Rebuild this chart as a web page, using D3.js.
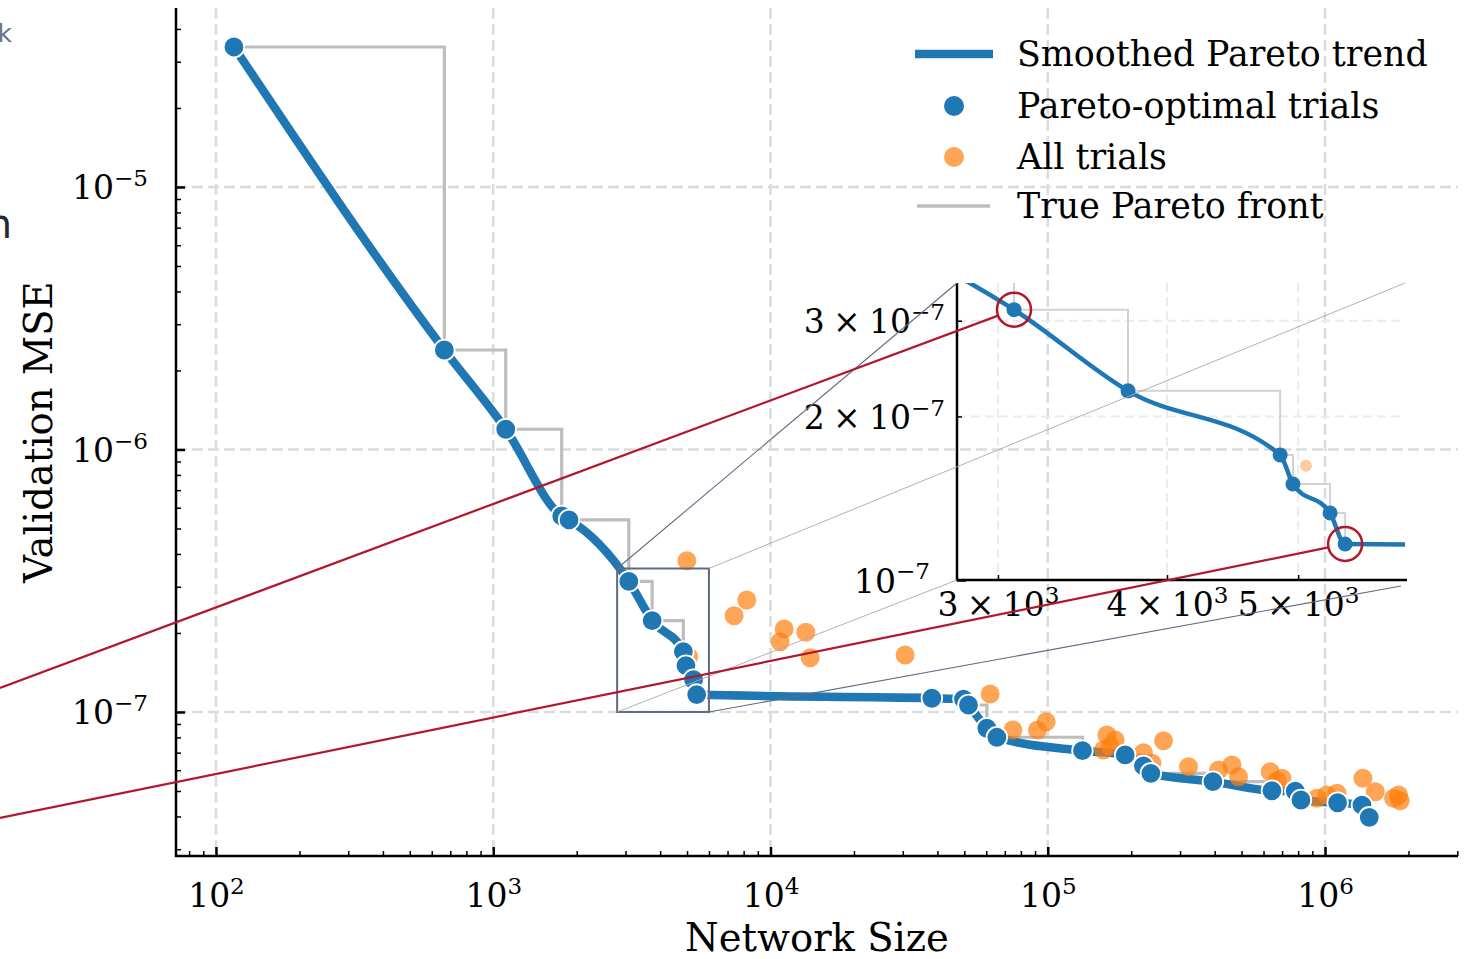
<!DOCTYPE html>
<html><head><meta charset="utf-8">
<script src="https://cdn.jsdelivr.net/npm/d3@7"></script>
<style>body{margin:0;background:#fff}svg{display:block}text{font-family:"DejaVu Serif",serif}</style>
</head><body>
<svg id="c" width="1468" height="959"></svg>
<script>
// ---------------- data ----------------
const paretoSize = [116.1, 666.4, 1109.5, 1766, 1877, 3083, 3743, 4849, 4956, 5279, 5416,
  38190, 49650, 51760, 60310, 65530, 133400, 190200, 221400, 235400, 394100, 643300,
  780800, 818800, 1110000, 1359000, 1444000];
const paretoMSE = [3.415e-5, 2.393e-6, 1.194e-6, 5.58e-7, 5.39e-7, 3.144e-7, 2.229e-7, 1.699e-7,
  1.502e-7, 1.328e-7, 1.165e-7, 1.128e-7, 1.12e-7, 1.063e-7, 8.67e-8, 8.01e-8, 7.12e-8, 6.86e-8,
  6.23e-8, 5.84e-8, 5.43e-8, 5.01e-8, 4.99e-8, 4.62e-8, 4.51e-8, 4.42e-8, 3.97e-8];
const trialSize = [4991, 8212, 7391, 11200, 10830, 13410, 13900, 30590, 61980, 5067, 74830, 91810,
  98680, 163400, 175000, 168000, 158900, 221400, 237400, 261500, 321800, 412900, 461500, 487500,
  634300, 698900, 672300, 934900, 1104000, 1016000, 1370000, 1518000, 1767000, 1842000, 1867000];
const trialMSE = [3.771e-7, 2.671e-7, 2.327e-7, 2.071e-7, 1.852e-7, 2.012e-7, 1.610e-7, 1.649e-7,
  1.171e-7, 1.622e-7, 8.54e-8, 8.54e-8, 9.18e-8, 8.18e-8, 7.82e-8, 7.42e-8, 7.16e-8, 7.00e-8,
  6.38e-8, 7.77e-8, 6.19e-8, 6.01e-8, 6.28e-8, 5.67e-8, 5.92e-8, 5.59e-8, 5.46e-8, 4.69e-8,
  4.90e-8, 4.83e-8, 5.59e-8, 4.97e-8, 4.69e-8, 4.83e-8, 4.59e-8];
const xMajorTicks = [1e2, 1e3, 1e4, 1e5, 1e6];
const xMajorLabels = [["", "2"], ["", "3"], ["", "4"], ["", "5"], ["", "6"]];
const yMajorTicks = [1e-7, 1e-6, 1e-5];
const yMajorLabels = [["", "\u22127"], ["", "\u22126"], ["", "\u22125"]];
const insetXDomain = [2798, 5997];
const insetYDomain = [1e-7, 3.52e-7];
const insetXTicks = [3000, 4000, 5000];
const insetXLabels = [["3", "3"], ["4", "3"], ["5", "3"]];
const insetYTicks = [2e-7, 3e-7];
const insetYLabels = [["2", "\u22127"], ["3", "\u22127"]];
const insetYMajor = [1e-7];
const insetYMajorLabels = [["", "\u22127"]];
const highlightIdx = [5, 10];
const linkEndSize = [16.63, 16.63];
const linkEndMSE = [1.234e-7, 3.946e-8];
const legendLabels = ["Smoothed Pareto trend", "Pareto-optimal trials", "All trials", "True Pareto front"];
const xTitle = "Network Size";
const yTitle = "Validation MSE";

// ---------------- setup ----------------
const BLUE = "#1f77b4", ORANGE = "#ff7f0e", RED = "#b2182b", SLATE = "#5f6b80";
const svg = d3.select("#c");
const M = {l: 176, r: 1458, t: 8, b: 856};
const x = d3.scaleLog().domain([71.75, 3.017e6]).range([M.l, M.r]);
const y = d3.scaleLog().domain([2.827e-8, 4.807e-5]).range([M.b, M.t]);
const I = {l: 957, r: 1405, t: 283, b: 580};
const ix = d3.scaleLog().domain(insetXDomain).range([I.l, I.r]);
const iy = d3.scaleLog().domain(insetYDomain).range([I.b, I.t]);
const TFS = 33;

function minorTicks(dom) {
  const out = [];
  const lo = Math.floor(Math.log10(dom[0])), hi = Math.ceil(Math.log10(dom[1]));
  for (let k = lo; k < hi; k++) for (let m = 2; m <= 9; m++) {
    const v = m * Math.pow(10, k);
    if (v >= dom[0] && v <= dom[1]) out.push(v);
  }
  return out;
}
function sci(sel, lab, fs) {
  sel.text(null);
  sel.append("tspan").text(lab[0] ? lab[0] + "\u2005\u00d7\u200510" : "10");
  sel.append("tspan").attr("font-size", fs * 0.7).attr("dy", -fs * 0.4).text(lab[1]);
}

// fragments at the left edge
svg.append("text").attr("x", 12).attr("y", 42).attr("text-anchor", "end")
  .style("font-family", "DejaVu Sans").attr("font-size", 25).attr("fill", "#6b7385").text("k");
svg.append("text").attr("x", 12).attr("y", 238).attr("text-anchor", "end")
  .style("font-family", "DejaVu Sans").attr("font-size", 40).attr("fill", "#1f2937").text("n");

// ---------------- main grid ----------------
const grid = svg.append("g").attr("stroke", "#dcdcdc").attr("stroke-width", 2.5).attr("stroke-dasharray", "11,5");
grid.selectAll(".gx").data(xMajorTicks).join("line")
  .attr("x1", d => x(d)).attr("x2", d => x(d)).attr("y1", M.t).attr("y2", M.b);
grid.selectAll(".gy").data(yMajorTicks).join("line")
  .attr("y1", d => y(d)).attr("y2", d => y(d)).attr("x1", M.l).attr("x2", M.r);

// ---------------- main marks ----------------
const pareto = paretoSize.map((s, i) => [s, paretoMSE[i]]);
const trials = trialSize.map((s, i) => [s, trialMSE[i]]);
const stepMain = d3.line().x(d => x(d[0])).y(d => y(d[1])).curve(d3.curveStepAfter);
svg.append("path").attr("d", stepMain(pareto)).attr("fill", "none")
  .attr("stroke", "#bdbdbd").attr("stroke-width", 3.2);
const smoothMain = d3.line().x(d => x(d[0])).y(d => y(d[1])).curve(d3.curveMonotoneX);
svg.append("path").attr("d", smoothMain(pareto)).attr("fill", "none")
  .attr("stroke", BLUE).attr("stroke-width", 8.5).attr("stroke-linecap", "round").attr("stroke-linejoin", "round");
svg.append("g").selectAll("circle").data(trials).join("circle")
  .attr("cx", d => x(d[0])).attr("cy", d => y(d[1])).attr("r", 9.5)
  .attr("fill", ORANGE).attr("fill-opacity", 0.7);
svg.append("g").selectAll("circle").data(pareto).join("circle")
  .attr("cx", d => x(d[0])).attr("cy", d => y(d[1])).attr("r", 10.3)
  .attr("fill", BLUE).attr("stroke", "#fff").attr("stroke-width", 1.8);

// ---------------- main axes ----------------
function axisX(scale, vals, size, width, ty) {
  const g = svg.append("g").attr("transform", `translate(0,${ty})`)
    .call(d3.axisBottom(scale).tickValues(vals).tickSize(-size).tickFormat(""));
  g.select(".domain").remove();
  g.selectAll(".tick line").attr("stroke", "#000").attr("stroke-width", width);
  return g;
}
function axisY(scale, vals, size, width, tx) {
  const g = svg.append("g").attr("transform", `translate(${tx},0)`)
    .call(d3.axisLeft(scale).tickValues(vals).tickSize(-size).tickFormat(""));
  g.select(".domain").remove();
  g.selectAll(".tick line").attr("stroke", "#000").attr("stroke-width", width);
  return g;
}
axisX(x, minorTicks(x.domain()), 5, 1.5, M.b);
const gxMaj = axisX(x, xMajorTicks, 9, 2.5, M.b);
gxMaj.selectAll(".tick text").attr("y", 907 - M.b).attr("dy", 0).attr("font-size", TFS)
  .attr("fill", "#000").attr("font-family", "DejaVu Serif")
  .each(function (d, i) { sci(d3.select(this), xMajorLabels[i], TFS); });
axisY(y, minorTicks(y.domain()), 5, 1.5, M.l);
const gyMaj = axisY(y, yMajorTicks, 9, 2.5, M.l);
gyMaj.selectAll(".tick text").attr("x", 148 - M.l).attr("dy", 0).attr("y", 12).attr("font-size", TFS)
  .attr("text-anchor", "end").attr("fill", "#000").attr("font-family", "DejaVu Serif")
  .each(function (d, i) { sci(d3.select(this), yMajorLabels[i], TFS); });
svg.append("path").attr("d", `M${M.l},${M.t}V${M.b}H${M.r}`).attr("fill", "none")
  .attr("stroke", "#000").attr("stroke-width", 2.5);
svg.append("text").attr("x", (M.l + M.r) / 2).attr("y", 951).attr("text-anchor", "middle")
  .attr("font-size", 38.5).text(xTitle);
svg.append("text").attr("transform", `translate(52,${(M.t + M.b) / 2}) rotate(-90)`)
  .attr("text-anchor", "middle").attr("font-size", 38.5).text(yTitle);

// ---------------- legend ----------------
const lg = svg.append("g");
const LY = [54, 106, 157, 206];
lg.append("line").attr("x1", 915).attr("x2", 993).attr("y1", LY[0]).attr("y2", LY[0])
  .attr("stroke", BLUE).attr("stroke-width", 8.5);
lg.append("circle").attr("cx", 954).attr("cy", LY[1]).attr("r", 10).attr("fill", BLUE);
lg.append("circle").attr("cx", 954).attr("cy", LY[2]).attr("r", 10).attr("fill", ORANGE).attr("fill-opacity", 0.7);
lg.append("line").attr("x1", 917).attr("x2", 990).attr("y1", LY[3]).attr("y2", LY[3])
  .attr("stroke", "#bdbdbd").attr("stroke-width", 3.5);
lg.selectAll("text").data(legendLabels).join("text")
  .attr("x", 1017).attr("y", (d, i) => LY[i] + 12).attr("font-size", 34.8).text(d => d);

// ---------------- inset ----------------
svg.append("clipPath").attr("id", "ic").append("rect")
  .attr("x", I.l).attr("y", I.t).attr("width", I.r - I.l).attr("height", I.b - I.t);
const ig = svg.append("g");
const igc = ig.append("g").attr("clip-path", "url(#ic)");
const igrid = igc.append("g").attr("stroke", "#ebebeb").attr("stroke-width", 2).attr("stroke-dasharray", "9,5");
igrid.selectAll(".a").data(insetXTicks).join("line")
  .attr("x1", d => ix(d)).attr("x2", d => ix(d)).attr("y1", I.t).attr("y2", I.b);
igrid.selectAll(".b").data(insetYTicks).join("line")
  .attr("y1", d => iy(d)).attr("y2", d => iy(d)).attr("x1", I.l).attr("x2", I.r);
const stepIn = d3.line().x(d => ix(d[0])).y(d => iy(d[1])).curve(d3.curveStepAfter);
igc.append("path").attr("d", stepIn(pareto)).attr("fill", "none").attr("stroke", "#d2d2d2").attr("stroke-width", 2);
const smoothIn = d3.line().x(d => ix(d[0])).y(d => iy(d[1])).curve(d3.curveMonotoneX);
igc.append("path").attr("d", smoothIn(pareto)).attr("fill", "none").attr("stroke", BLUE).attr("stroke-width", 4.5);
igc.append("g").selectAll("circle").data(trials).join("circle")
  .attr("cx", d => ix(d[0])).attr("cy", d => iy(d[1])).attr("r", 6)
  .attr("fill", ORANGE).attr("fill-opacity", 0.4);
igc.append("g").selectAll("circle").data(pareto).join("circle")
  .attr("cx", d => ix(d[0])).attr("cy", d => iy(d[1])).attr("r", 7.5).attr("fill", BLUE);

function iaxisX(vals, size, width) {
  const g = ig.append("g").attr("transform", `translate(0,${I.b})`)
    .call(d3.axisBottom(ix).tickValues(vals).tickSize(-size).tickFormat(""));
  g.select(".domain").remove();
  g.selectAll(".tick line").attr("stroke", "#000").attr("stroke-width", width);
  return g;
}
function iaxisY(vals, size, width) {
  const g = ig.append("g").attr("transform", `translate(${I.l},0)`)
    .call(d3.axisLeft(iy).tickValues(vals).tickSize(-size).tickFormat(""));
  g.select(".domain").remove();
  g.selectAll(".tick line").attr("stroke", "#000").attr("stroke-width", width);
  return g;
}
const ixa = iaxisX(insetXTicks, 5, 1.5);
ixa.selectAll(".tick text").attr("y", 616 - I.b).attr("dy", 0).attr("font-size", TFS)
  .attr("fill", "#000").attr("font-family", "DejaVu Serif")
  .each(function (d, i) { sci(d3.select(this), insetXLabels[i], TFS); });
const iya = iaxisY(insetYTicks, 5, 1.5);
iya.selectAll(".tick text").attr("x", 945 - I.l).attr("y", 12).attr("dy", 0).attr("font-size", TFS)
  .attr("text-anchor", "end").attr("fill", "#000").attr("font-family", "DejaVu Serif")
  .each(function (d, i) { sci(d3.select(this), insetYLabels[i], TFS); });
const iym = iaxisY(insetYMajor, 9, 2.5);
iym.selectAll(".tick text").attr("x", 930 - I.l).attr("y", 12).attr("dy", 0).attr("font-size", TFS)
  .attr("text-anchor", "end").attr("fill", "#000").attr("font-family", "DejaVu Serif")
  .each(function (d, i) { sci(d3.select(this), insetYMajorLabels[i], TFS); });
ig.append("path").attr("d", `M${I.l},${I.t}V${I.b}H${I.r + 2}`).attr("fill", "none")
  .attr("stroke", "#000").attr("stroke-width", 2.5);

// ---------------- zoom box & connectors ----------------
const bx0 = x(insetXDomain[0]), bx1 = x(insetXDomain[1]);
const by0 = y(insetYDomain[1]), by1 = y(insetYDomain[0]);
svg.append("rect").attr("x", bx0).attr("y", by0).attr("width", bx1 - bx0).attr("height", by1 - by0)
  .attr("fill", "none").attr("stroke", SLATE).attr("stroke-width", 2);
const conn = [
  [bx0, by0, I.l, I.t, SLATE, 1.1],
  [bx1, by1, I.r - 4, I.b + 6, SLATE, 1.1],
  [bx1, by0, I.r, I.t, "#a8a8a8", 0.9],
  [bx0, by1, I.l, I.b, "#a8a8a8", 0.9]
];
svg.append("g").selectAll("line").data(conn).join("line")
  .attr("x1", d => d[0]).attr("y1", d => d[1]).attr("x2", d => d[2]).attr("y2", d => d[3])
  .attr("stroke", d => d[4]).attr("stroke-width", d => d[5]);

// ---------------- highlight circles & links ----------------
const R = 17;
highlightIdx.forEach((idx, k) => {
  const cx = ix(paretoSize[idx]), cy = iy(paretoMSE[idx]);
  const ex = x(linkEndSize[k]), ey = y(linkEndMSE[k]);
  const dx = ex - cx, dy = ey - cy, L = Math.hypot(dx, dy);
  svg.append("line").attr("x1", cx + R * dx / L).attr("y1", cy + R * dy / L).attr("x2", ex).attr("y2", ey)
    .attr("stroke", RED).attr("stroke-width", 2.2);
  svg.append("circle").attr("cx", cx).attr("cy", cy).attr("r", R)
    .attr("fill", "none").attr("stroke", RED).attr("stroke-width", 2.5);
});
</script>
</body></html>
